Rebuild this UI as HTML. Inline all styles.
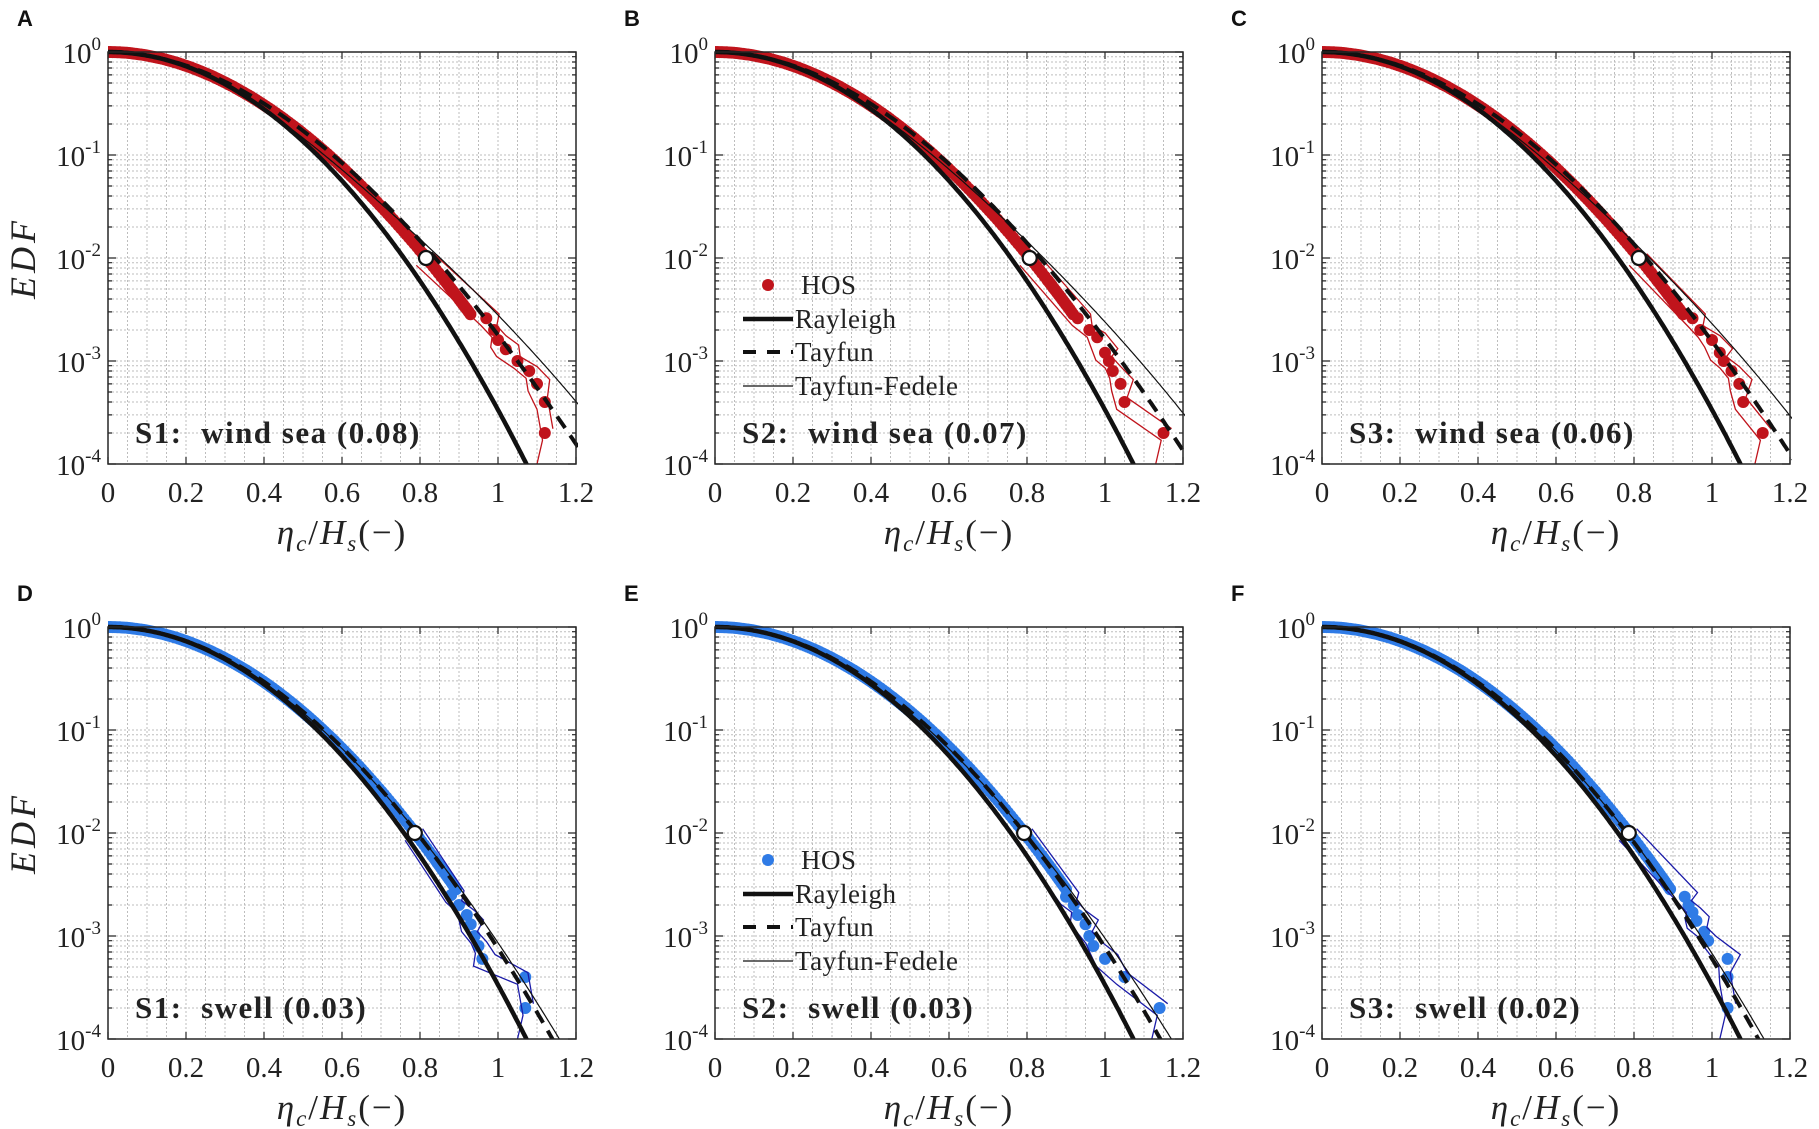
<!DOCTYPE html>
<html><head><meta charset="utf-8"><style>
html,body{margin:0;padding:0;background:#fff;}
svg{display:block;}
</style></head><body>
<svg id="s" xmlns="http://www.w3.org/2000/svg" width="1819" height="1129" viewBox="0 0 1819 1129"></svg>
<script>
const W=468,H=412;
const P=[
{L:108,T:52,c:'#c0141c',lc:'#c0141c',mu:0.28,mh:0.2,tf:0.038,lab:'S1:  wind sea (0.08)',let:'A',leg:false,tail:[[0.97,2.6e-3],[0.99,2.0e-3],[1.0,1.6e-3],[1.02,1.3e-3],[1.05,1.0e-3],[1.08,8e-4],[1.1,6e-4],[1.12,4e-4],[1.12,2e-4]]},
{L:715,T:52,c:'#c0141c',lc:'#c0141c',mu:0.26,mh:0.17,tf:0.03,lab:'S2:  wind sea (0.07)',let:'B',leg:true,tail:[[0.93,2.6e-3],[0.96,2.0e-3],[0.98,1.7e-3],[1.0,1.2e-3],[1.01,1.0e-3],[1.02,8e-4],[1.04,6e-4],[1.05,4e-4],[1.15,2e-4]]},
{L:1322,T:52,c:'#c0141c',lc:'#c0141c',mu:0.25,mh:0.19,tf:0.03,lab:'S3:  wind sea (0.06)',let:'C',leg:false,tail:[[0.95,2.6e-3],[0.97,2.0e-3],[1.0,1.6e-3],[1.02,1.2e-3],[1.03,1.0e-3],[1.05,8e-4],[1.07,6e-4],[1.08,4e-4],[1.13,2e-4]]},
{L:108,T:627,c:'#2f7be6',lc:'#1a1aa8',mu:0.116,mh:0.1,tf:0.006,lab:'S1:  swell (0.03)',let:'D',leg:false,tail:[[0.88,2.5e-3],[0.9,2.0e-3],[0.92,1.6e-3],[0.93,1.3e-3],[0.94,1.0e-3],[0.95,8e-4],[0.96,6e-4],[1.07,4e-4],[1.07,2e-4]]},
{L:715,T:627,c:'#2f7be6',lc:'#1a1aa8',mu:0.12,mh:0.12,tf:0.01,lab:'S2:  swell (0.03)',let:'E',leg:true,tail:[[0.9,2.4e-3],[0.92,2.0e-3],[0.93,1.6e-3],[0.95,1.3e-3],[0.96,1.0e-3],[0.97,8e-4],[1.0,6e-4],[1.05,4e-4],[1.14,2e-4]]},
{L:1322,T:627,c:'#2f7be6',lc:'#1a1aa8',mu:0.08,mh:0.1,tf:0.005,lab:'S3:  swell (0.02)',let:'F',leg:false,tail:[[0.93,2.4e-3],[0.94,2.0e-3],[0.95,1.7e-3],[0.96,1.4e-3],[0.98,1.1e-3],[0.99,9e-4],[1.04,6e-4],[1.04,4e-4],[1.04,2e-4]]}
];
let o='';
const F="font-family:'Liberation Serif',serif;";
P.forEach((p,i)=>{
 const X=v=>p.L+v/1.2*W, Y=q=>p.T+(-Math.log10(q))*H/4;
 o+=`<clipPath id="c${i}"><rect x="${p.L}" y="${p.T-8}" width="${W+2}" height="${H+8}"/></clipPath>`;
 let g='';
 for(let k=1;k<24;k++){const x=X(k*0.05);g+=`M${x.toFixed(1)} ${p.T}V${p.T+H}`;}
 for(let d=0;d<4;d++)for(let m=1;m<=9;m++){const y=Y(Math.pow(10,-d-1)*m);if(y>p.T+0.5&&y<p.T+H-0.5)g+=`M${p.L} ${y.toFixed(1)}H${p.L+W}`;}
 o+=`<path d="${g}" stroke="#bdbdbd" stroke-width="1" stroke-dasharray="2,2" fill="none"/>`;
 let t='';
 for(let k=0;k<=6;k++){const x=X(k*0.2);t+=`M${x} ${p.T+H}v-7M${x} ${p.T}v7`;}
 for(let d=0;d<4;d++)for(let m=1;m<=9;m++){const y=Y(Math.pow(10,-d-1)*m);const l=m==1?8:4;t+=`M${p.L} ${y.toFixed(1)}h${l}M${p.L+W} ${y.toFixed(1)}h-${l}`;}
 for(let d=0;d<=4;d++){const y=Y(Math.pow(10,-d));t+=`M${p.L} ${y}h8M${p.L+W} ${y}h-8`;}
 o+=`<path d="${t}" stroke="#262626" stroke-width="1.2" fill="none"/>`;
 const tay=(mu,tf)=>{let s='';for(let x=0;x<=1.25;x+=0.005){const h=(Math.sqrt(1+2*mu*x)-1)/mu;const z=8*h*h;let q=Math.exp(-z)*(1+tf*z*(z-4));s+=(s?'L':'M')+X(x).toFixed(1)+' '+Y(q).toFixed(1);}return s;};
 let ray='';for(let x=0;x<=1.2;x+=0.005){ray+=(ray?'L':'M')+X(x).toFixed(1)+' '+Y(Math.exp(-8*x*x)).toFixed(1);}
 let dots='';
 const hx=(h,mu)=>h+mu*h*h/2;
 for(let h=0;h<=0.80;h+=0.006){const q=Math.exp(-8*h*h);dots+=`<circle cx="${X(hx(h,p.mh)).toFixed(1)}" cy="${Y(q).toFixed(1)}" r="6"/>`;}
 const hT=0.758;
 for(let h=0.80;h<0.86;h+=0.004){const q=Math.exp(-8*h*h);dots+=`<circle cx="${X(hx(h,p.mh)).toFixed(1)}" cy="${Y(q).toFixed(1)}" r="6"/>`;}
 p.tail.forEach(a=>{dots+=`<circle cx="${X(a[0]).toFixed(1)}" cy="${Y(a[1]).toFixed(1)}" r="6"/>`;});
 let env1='',env2='';
 const pts=[[hx(hT,p.mh),1e-2]].concat(p.tail);
 pts.forEach((a,j)=>{env1+=(j?'L':'M')+X(a[0]+0.02+0.015*Math.sin(j*2.1)).toFixed(1)+' '+Y(a[1]*1.1).toFixed(1);env2+=(j?'L':'M')+X(a[0]-0.015-0.01*Math.cos(j*1.7)).toFixed(1)+' '+Y(a[1]*0.85).toFixed(1);});
 env2+=`L${X(p.tail[p.tail.length-1][0]-0.02).toFixed(1)} ${p.T+H}`;
 o+=`<g clip-path="url(#c${i})">`;
 o+=`<g fill="${p.c}">${dots}</g>`;
 o+=`<path d="${env1}" stroke="${p.lc}" stroke-width="1.3" fill="none"/><path d="${env2}" stroke="${p.lc}" stroke-width="1.3" fill="none"/>`;
 o+=`<path d="${ray}" stroke="#111" stroke-width="4.5" fill="none"/>`;
 o+=`<path d="${tay(p.mu,0)}" stroke="#111" stroke-width="4" stroke-dasharray="14,9" fill="none"/>`;
 o+=`<path d="${tay(p.mu,p.tf)}" stroke="#111" stroke-width="1.2" fill="none"/>`;
 o+=`</g>`;
 o+=`<circle cx="${X(hx(hT,p.mh)).toFixed(1)}" cy="${Y(1e-2)}" r="7" fill="#fff" stroke="#111" stroke-width="2.2"/>`;
 o+=`<rect x="${p.L}" y="${p.T}" width="${W}" height="${H}" fill="none" stroke="#262626" stroke-width="1.5"/>`;
 ['0','0.2','0.4','0.6','0.8','1','1.2'].forEach((s,k)=>{o+=`<text x="${X(k*0.2)}" y="${p.T+H+38}" text-anchor="middle" style="${F}font-size:29px" fill="#222">${s}</text>`;});
 for(let d=0;d<=4;d++){const y=Y(Math.pow(10,-d));o+=`<text x="${p.L-7}" y="${y+11}" text-anchor="end" style="${F}font-size:29px" fill="#222">10<tspan dy="-13" style="font-size:19px">${d?'-'+d:'0'}</tspan></text>`;}
 o+=`<text x="${p.L+W/2}" y="${p.T+H+80}" text-anchor="middle" style="${F}font-size:35px;font-style:italic;letter-spacing:2px" fill="#222">η<tspan dy="7" style="font-size:23px">c</tspan><tspan dy="-7" style="font-style:normal">/</tspan>H<tspan dy="7" style="font-size:23px">s</tspan><tspan dy="-7" style="font-style:normal">(−)</tspan></text>`;
 if(p.L<200) o+=`<text transform="translate(35,${p.T+H/2}) rotate(-90)" text-anchor="middle" style="${F}font-size:36px;font-style:italic;letter-spacing:4px" fill="#222">EDF</text>`;
 o+=`<text x="${p.L-91}" y="${p.T-26}" style="font-family:'Liberation Sans',sans-serif;font-weight:bold;font-size:22px" fill="#111">${p.let}</text>`;
 o+=`<text x="${p.L+27}" y="${p.T+H-21}" style="${F}font-size:31px;font-weight:bold;white-space:pre;letter-spacing:1.5px" fill="#222" xml:space="preserve">${p.lab}</text>`;
 if(p.leg){const lx=p.L+28,ys=[p.T+233,p.T+267,p.T+300,p.T+334];
  o+=`<circle cx="${lx+25}" cy="${ys[0]}" r="6" fill="${p.c}"/>`;
  o+=`<path d="M${lx} ${ys[1]}h50" stroke="#111" stroke-width="4.5"/>`;
  o+=`<path d="M${lx} ${ys[2]}h50" stroke="#111" stroke-width="4" stroke-dasharray="13,11"/>`;
  o+=`<path d="M${lx} ${ys[3]}h50" stroke="#111" stroke-width="1.2"/>`;
  ['HOS','Rayleigh','Tayfun','Tayfun-Fedele'].forEach((s,k)=>{o+=`<text x="${lx+52+(k==0?6:0)}" y="${ys[k]+9}" style="${F}font-size:27px;letter-spacing:0.5px" fill="#222">${s}</text>`;});
 }
});
document.getElementById('s').innerHTML=o;
</script>
</body></html>
